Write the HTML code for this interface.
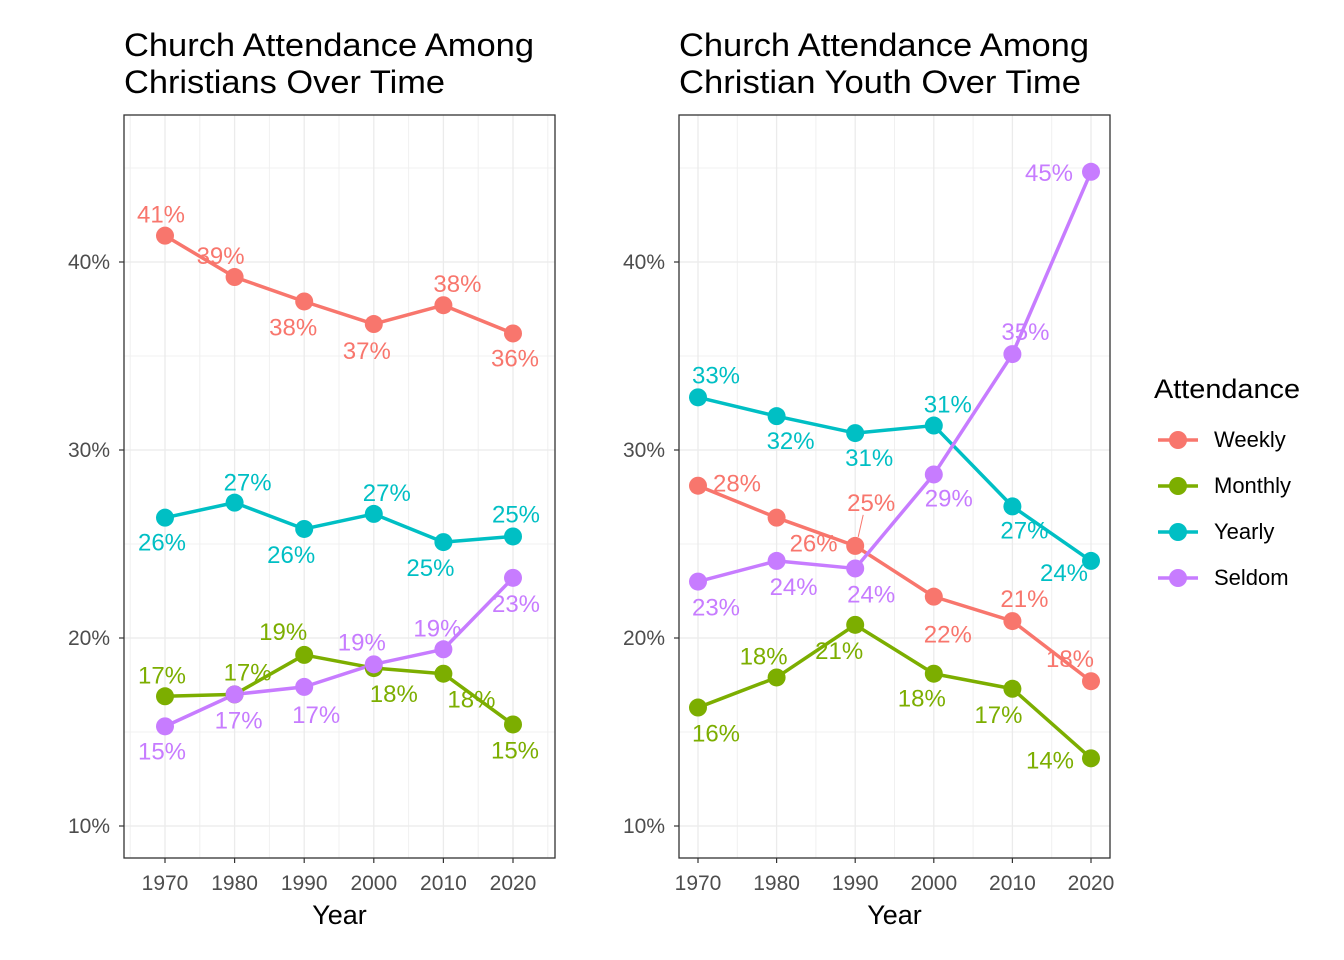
<!DOCTYPE html>
<html><head><meta charset="utf-8">
<style>
html,body{margin:0;padding:0;background:#fff;}
svg{display:block;font-family:"Liberation Sans",Arial,sans-serif;}
</style></head>
<body>
<svg id="chart" width="1344" height="960" viewBox="0 0 1344 960"></svg>
<script>
const years = [1970,1980,1990,2000,2010,2020];
const seriesNames = ["Weekly","Monthly","Yearly","Seldom"];
const colors = ["#F8766D","#7CAE00","#00BFC4","#C77CFF"];
const yTicks = [10,20,30,40];
const xTicks = [1970,1980,1990,2000,2010,2020];

const leftWeekly  = [41.4,39.2,37.9,36.7,37.7,36.2];
const leftMonthly = [16.9,17.0,19.1,18.4,18.1,15.4];
const leftYearly  = [26.4,27.2,25.8,26.6,25.1,25.4];
const leftSeldom  = [15.3,17.0,17.4,18.6,19.4,23.2];

const rightWeekly  = [28.1,26.4,24.9,22.2,20.9,17.7];
const rightMonthly = [16.3,17.9,20.7,18.1,17.3,13.6];
const rightYearly  = [32.8,31.8,30.9,31.3,27.0,24.1];
const rightSeldom  = [23.0,24.1,23.7,28.7,35.1,44.8];

// label offsets (styling, pixels)
const leftOff = [
 [[-4,-21],[-14,-21],[-11,26],[-7,27],[14,-21],[2,25]],
 [[-3,-21],[13,-22],[-21,-23],[20,26],[28,26],[2,26]],
 [[-3,25],[13,-20],[-13,26],[13,-21],[-13,26],[3,-22]],
 [[-3,25],[4,26],[12,28],[-12,-22],[-6,-21],[3,26]]];
const rightOff = [
 [[39,-2],[37,26],[16,-43],[14,38],[12,-22],[-21,-22]],
 [[18,26],[-13,-21],[-16,26],[-12,25],[-14,26],[-41,2]],
 [[18,-22],[14,25],[14,25],[14,-21],[12,24],[-27,12]],
 [[18,26],[17,26],[16,26],[15,24],[13,-22],[-42,1]]];

const svg = document.getElementById('chart');
const NS = 'http://www.w3.org/2000/svg';
function mk(tag, attrs, parent){const e=document.createElementNS(NS,tag);for(const k in attrs)e.setAttribute(k,attrs[k]);(parent||svg).appendChild(e);return e;}

function yScale(v){return 826 - (v-10)*18.8;}

function panel(id, x0, x1, x1970, x2020, data, offs, title1, title2, tl1, tl2){
  const g = mk('g',{});
  
  
  const xs = y => x1970 + (y-1970)*(x2020-x1970)/50;
  const top=115, bot=858;
  [15,25,35,45].forEach(v=>{mk('line',{x1:x0,x2:x1,y1:yScale(v),y2:yScale(v),stroke:'#f0f0f0','stroke-width':1},g);});
  [1965,1975,1985,1995,2005,2015,2025].forEach(v=>{const X=xs(v);if(X>x0&&X<x1)mk('line',{x1:X,x2:X,y1:top,y2:bot,stroke:'#f0f0f0','stroke-width':1},g);});
  yTicks.forEach(v=>{const l=mk('line',{x1:x0,x2:x1,y1:yScale(v),y2:yScale(v),stroke:'#ebebeb','stroke-width':1.3},g);
    
    const t=mk('text',{x:x0-14,y:yScale(v)+7,'text-anchor':'end','font-size':21,fill:'#4d4d4d'},g);t.textContent=v+'%';
    
    mk('line',{x1:x0-5,x2:x0,y1:yScale(v),y2:yScale(v),stroke:'#333','stroke-width':1.2},g);});
  xTicks.forEach(v=>{const X=xs(v);mk('line',{x1:X,x2:X,y1:top,y2:bot,stroke:'#ebebeb','stroke-width':1.3},g);
    const t=mk('text',{x:X,y:890,'text-anchor':'middle','font-size':21,fill:'#4d4d4d'},g);t.textContent=v;
    
    mk('line',{x1:X,x2:X,y1:bot,y2:bot+5,stroke:'#333','stroke-width':1.2},g);});
  data.forEach((vals,si)=>{
    const pts = vals.map((v,i)=>xs(years[i])+','+yScale(v)).join(' ');
    const pl=mk('polyline',{points:pts,fill:'none',stroke:colors[si],'stroke-width':3.5,'stroke-linejoin':'round'},g);
    
    
  });
  data.forEach((vals,si)=>{
    vals.forEach((v,i)=>{
      const c=mk('circle',{cx:xs(years[i]),cy:yScale(v),r:9,fill:colors[si]},g);
      
      
    });
  });
  data.forEach((vals,si)=>{
    vals.forEach((v,i)=>{
      const cx=xs(years[i]), cy=yScale(v);
      const o=offs[si][i];
      if(Math.abs(o[1])>40){mk('line',{x1:cx+3,y1:cy-9,x2:cx+o[0]-8,y2:cy+o[1]+12,stroke:colors[si],'stroke-width':1},g);}
      const t=mk('text',{x:cx+o[0],y:cy+o[1]+8,'text-anchor':'middle','font-size':24,fill:colors[si]},g);
      t.textContent=Math.round(v)+'%';
      
      
    });
  });
  const b=mk('rect',{x:x0,y:top,width:x1-x0,height:bot-top,fill:'none',stroke:'#333','stroke-width':1.3},g);
  
  const t1=mk('text',{x:x0,y:56,'font-size':32,fill:'#000',textLength:tl1,lengthAdjust:'spacingAndGlyphs'},g);t1.textContent=title1;
  
  const t2=mk('text',{x:x0,y:93,'font-size':32,fill:'#000',textLength:tl2,lengthAdjust:'spacingAndGlyphs'},g);t2.textContent=title2;
  
  const xt=mk('text',{x:(x0+x1)/2,y:924,'text-anchor':'middle','font-size':27,fill:'#000'},g);xt.textContent='Year';
  
}

panel('left-panel',124,555,165,513,[leftWeekly,leftMonthly,leftYearly,leftSeldom],leftOff,'Church Attendance Among','Christians Over Time',410,321);
panel('right-panel',679,1110,698,1091,[rightWeekly,rightMonthly,rightYearly,rightSeldom],rightOff,'Church Attendance Among','Christian Youth Over Time',410,402);

const lg = mk('g',{});


const lt=mk('text',{x:1154,y:398,'font-size':27,fill:'#000',textLength:146,lengthAdjust:'spacingAndGlyphs'},lg);lt.textContent='Attendance';

seriesNames.forEach((n,i)=>{
  const y=440+i*46;
  const e=mk('g',{},lg);
  
  
  mk('line',{x1:1158,x2:1198,y1:y,y2:y,stroke:colors[i],'stroke-width':3.5},e);
  mk('circle',{cx:1178,cy:y,r:9,fill:colors[i]},e);
  const t=mk('text',{x:1214,y:y+7,'font-size':22,fill:'#000'},e);t.textContent=n;
});
</script>
</body></html>
